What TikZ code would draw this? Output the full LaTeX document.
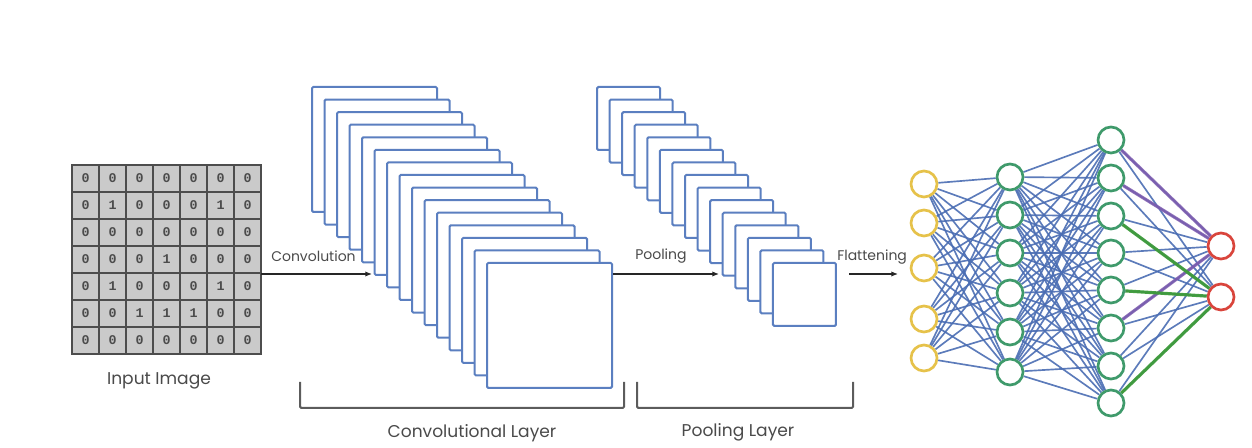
\documentclass[tikz,border=0pt]{standalone}
\usepackage{fontspec}
\setmainfont{Poppins}
\newfontfamily\digitfont{Liberation Mono}
\usetikzlibrary{arrows.meta,backgrounds}
\definecolor{boxblue}{HTML}{5B7FC0}
\definecolor{gridfill}{HTML}{CACACA}
\definecolor{gridline}{HTML}{4D4D4D}
\definecolor{labelgray}{HTML}{4A4A4A}
\definecolor{edgeblue}{HTML}{4A6DB3}
\definecolor{nodeyellow}{HTML}{E6C24A}
\definecolor{nodegreen}{HTML}{3F9A6B}
\definecolor{nodered}{HTML}{D9453C}
\definecolor{edgepurple}{HTML}{7E5AAE}
\definecolor{edgegreen}{HTML}{3E9C3A}
\begin{document}
\begin{tikzpicture}[x=0.75pt,y=-0.75pt,
  cell/.style={draw=gridline, fill=gridfill, minimum size=20.25pt, inner sep=0pt, line width=1.1pt,
    font=\digitfont\bfseries\fontsize{10}{10}\selectfont, text=black!70},
  convbox/.style={draw=boxblue, fill=white, line width=1.5pt, minimum size=93.75pt, inner sep=0pt, rounded corners=1pt},
  poolbox/.style={draw=boxblue, fill=white, line width=1.5pt, minimum size=47.25pt, inner sep=0pt, rounded corners=1pt},
  arr/.style={line width=0.9pt, black!85, -{Latex[length=5pt,width=4pt]}},
  smalllabel/.style={font=\fontsize{10.5}{10.5}\selectfont, text=labelgray, inner sep=0pt},
  biglabel/.style={font=\fontsize{12.8}{12.8}\selectfont, text=labelgray, inner sep=0pt},
  bracketline/.style={draw=labelgray!90, line width=1.5pt, rounded corners=1pt},
  neuron/.style={circle, fill=white, line width=2pt, minimum size=19.5pt, inner sep=0pt},
  yneuron/.style={neuron, draw=nodeyellow},
  gneuron/.style={neuron, draw=nodegreen},
  rneuron/.style={neuron, draw=nodered},
  wire/.style={draw=edgeblue, line width=1.25pt, opacity=0.9},
  pwire/.style={draw=edgepurple, line width=2.4pt, opacity=0.85},
  gwire/.style={draw=edgegreen, line width=2.4pt, opacity=0.95}
]
\useasboundingbox (0,0) rectangle (1252,448);

% ---------- input image grid ----------
\node[minimum size=141.75pt, inner sep=0pt] (grid) at (166.5,259.5) {};
\foreach \r/\row in {0/{0,0,0,0,0,0,0},1/{0,1,0,0,0,1,0},2/{0,0,0,0,0,0,0},3/{0,0,0,1,0,0,0},4/{0,1,0,0,0,1,0},5/{0,0,1,1,1,0,0},6/{0,0,0,0,0,0,0}}{
  \foreach \v [count=\c from 0] in \row {
    \node[cell] (c-\r-\c) at (85.5+27*\c, 178.5+27*\r) {\v};
  }
}
\node[biglabel] (inlabel) at (159,381) {Input Image};

% ---------- convolutional stack ----------
\foreach \i in {0,...,14}{
  \node[convbox] (cv\i) at (374.5+12.5*\i, 149.5+12.57*\i) {};
}
% ---------- pooling stack ----------
\foreach \i in {0,...,14}{
  \node[poolbox] (pl\i) at (628.5+12.57*\i, 118.5+12.57*\i) {};
}

% ---------- arrows ----------
\coordinate (convend) at (372,274);
\coordinate (poolend) at (719,274);
\coordinate (flatstart) at (849,274);
\coordinate (flatend) at (898,274);
\draw[arr] (grid.east |- convend) -- (convend);
\draw[arr] (cv14.east |- poolend) -- (poolend);
\draw[arr] (flatstart) -- (flatend);
\node[smalllabel, anchor=base west] (convtxt) at (271,262) {Convolution};
\node[smalllabel, anchor=base west] (pooltxt) at (635,260) {Pooling};
\node[smalllabel, anchor=base west] (flattxt) at (837,261) {Flattening};

% ---------- brackets ----------
\coordinate (cb1) at (300,382); \coordinate (cb2) at (624,382);
\coordinate (pb1) at (637,382); \coordinate (pb2) at (853,382);
\draw[bracketline] (cb1) -- ++(0,26) -| (cb2);
\draw[bracketline] (pb1) -- ++(0,26) -| (pb2);
\node[biglabel] (convlayer) at (472,433) {Convolutional Layer};
\node[biglabel] (poollayer) at (738,432) {Pooling Layer};

% ---------- neural network ----------
\foreach \y [count=\k] in {184,223,268,319,358}{
  \node[yneuron] (y\k) at (924,\y) {};
}
\foreach \y [count=\k] in {177,215,253,293,332,372}{
  \node[gneuron] (g\k) at (1010,\y) {};
}
\foreach \y [count=\k] in {140,178,216,253,290,328,366,403}{
  \node[gneuron] (h\k) at (1111,\y) {};
}
\node[rneuron] (r1) at (1221,246) {};
\node[rneuron] (r2) at (1221,297) {};

\begin{pgfonlayer}{background}
  \foreach \a in {1,...,5}{
    \foreach \b in {1,...,6}{
      \draw[wire] (y\a) -- (g\b);
    }
  }
  \foreach \a in {1,...,6}{
    \foreach \b in {1,...,8}{
      \draw[wire] (g\a) -- (h\b);
    }
  }
  \foreach \a in {1,...,8}{
    \draw[wire] (h\a) -- (r1);
    \draw[wire] (h\a) -- (r2);
  }
  \draw[pwire] (h1) -- (r1);
  \draw[pwire] (h2) -- (r1);
  \draw[pwire] (h6) -- (r1);
  \draw[gwire] (h3) -- (r2);
  \draw[gwire] (h5) -- (r2);
  \draw[gwire] (h8) -- (r2);
\end{pgfonlayer}
\end{tikzpicture}
\end{document}
